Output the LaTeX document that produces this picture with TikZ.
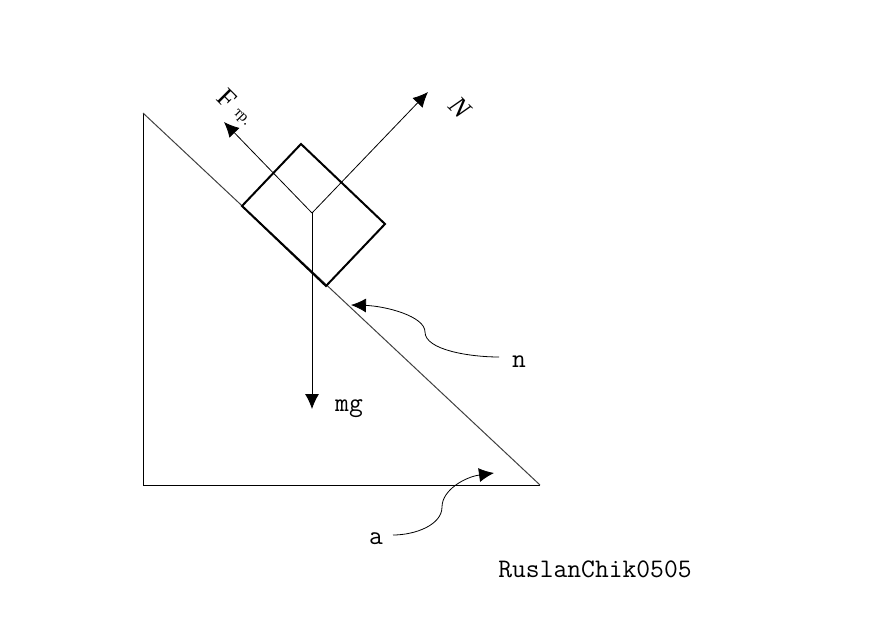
\documentclass[tikz,border=0pt]{standalone}
\usepackage{fontspec}
\newfontfamily\rotfont{Liberation Serif}
\usetikzlibrary{arrows.meta}

\begin{document}
\begin{tikzpicture}[x=1pt,y=-1pt]
	\tikzstyle{thin line}=[draw=black,line width=0.8pt]
	\tikzstyle{box line}=[draw=black,line width=2pt,line join=miter]
	\tikzstyle{force}=[thin line,-{Latex[length=15pt,width=14pt]}]
	\tikzstyle{lbl}=[inner sep=0pt,anchor=base,font=\ttfamily\fontsize{26.8}{26.8}\selectfont]
	\tikzstyle{rotlbl}=[inner sep=0pt,rotate=-45,font=\rotfont\fontsize{27}{27}\selectfont]
	\useasboundingbox (0,0) rectangle (894,634);
		\coordinate (top) at (143,113);
		\coordinate (corner) at (143,485);
		\coordinate (foot) at (540,485);
			\draw[thin line] (foot) -- (corner) -- (top);
			\draw[draw=black!75,line width=1pt] (top) -- (foot);
		\coordinate (bt) at (301,144);
		\coordinate (br) at (385,224);
		\coordinate (bb) at (326,286);
		\coordinate (bl) at (242,206);
			\draw[box line] (bt) -- (br) -- (bb) -- (bl) -- cycle;
		\coordinate (c) at (312,213);
		\coordinate (endN) at (428,92);
		\coordinate (endF) at (224,122);
		\coordinate (endG) at (312,409);
			\draw[force] (c) -- (endN);
			\draw[force] (c) -- (endF);
			\draw[force] (c) -- (endG);
		\node[rotlbl,font=\rotfont\itshape\fontsize{27}{27}\selectfont] (N) at (460,108) {N};
		\node[rotlbl] (F) at (227,99) {F};
		\node[rotlbl,font=\rotfont\fontsize{15}{15}\selectfont] (Ftr) at (241,118) {тр.};
		\node[lbl] (mg) at (349,411) {mg};
		\node[lbl] (n) at (519,367) {n};
		\node[lbl] (a) at (376,544) {a};
		\node[lbl] (sign) at (595,577) {RuslanChik0505};
		\coordinate (tipN) at (351,305);
		\coordinate (midN) at (425,332);
		\coordinate (tipA) at (494,473);
		\coordinate (midA) at (442,507);
		\coordinate (endn) at (499,357);
		\coordinate (enda) at (393,535);
			\draw[force] (endn) .. controls (470,357) and (425,350) .. (midN) .. controls (425,316) and (385,306) .. (tipN);
			\draw[force] (enda) .. controls (415,535) and (442,525) .. (midA) .. controls (442,490) and (465,477) .. (tipA);
\end{tikzpicture}
\end{document}
